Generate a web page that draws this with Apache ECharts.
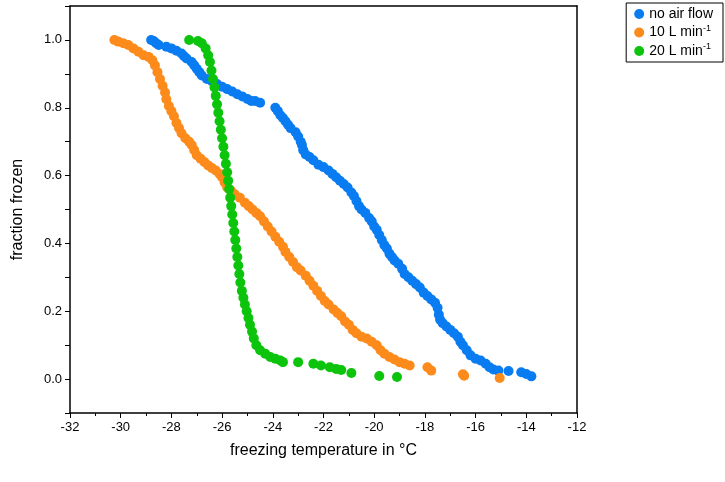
<!DOCTYPE html>
<html>
<head>
<meta charset="utf-8">
<script src="https://cdn.jsdelivr.net/npm/echarts@6/dist/echarts.min.js"></script>
<style>html,body{margin:0;padding:0;background:#fff}#chart{width:725px;height:482px}</style>
</head>
<body>
<div id="chart"></div>
<script>
// data
const noAirX = [-28.8, -28.7, -28.6, -28.5, -28.2, -28.0, -27.8, -27.6, -27.5, -27.4, -27.2, -27.1, -27.0, -26.9, -26.8, -26.6, -26.4, -26.2, -26.0, -25.8, -25.6, -25.4, -25.2, -25.0, -24.85, -24.7, -24.5, -23.9, -23.8, -23.7, -23.6, -23.5, -23.4, -23.3, -23.1, -23.0, -22.9, -22.85, -22.8, -22.7, -22.55, -22.4, -22.2, -22.0, -21.8, -21.65, -21.5, -21.35, -21.2, -21.05, -20.9, -20.8, -20.7, -20.6, -20.5, -20.35, -20.2, -20.1, -20.0, -19.9, -19.8, -19.7, -19.6, -19.5, -19.4, -19.3, -19.2, -19.05, -18.9, -18.8, -18.65, -18.5, -18.35, -18.2, -18.05, -17.9, -17.75, -17.6, -17.5, -17.45, -17.4, -17.3, -17.15, -17.0, -16.85, -16.7, -16.6, -16.5, -16.35, -16.2, -16.0, -15.8, -15.6, -15.45, -15.3, -15.1, -14.7, -14.2, -14.0, -13.8]
const noAirY = [1.0, .997, .99, .985, .98, .975, .968, .96, .952, .945, .935, .925, .915, .905, .895, .885, .878, .87, .862, .855, .848, .84, .833, .826, .82, .82, .815, .80, .79, .778, .77, .76, .75, .74, .728, .715, .70, .69, .675, .662, .655, .645, .632, .625, .615, .605, .595, .585, .575, .565, .55, .54, .525, .51, .50, .49, .475, .465, .45, .44, .425, .41, .395, .385, .37, .36, .35, .34, .325, .31, .30, .29, .28, .27, .255, .245, .235, .225, .21, .19, .175, .165, .155, .145, .135, .125, .11, .10, .085, .07, .06, .055, .045, .035, .028, .025, .024, .02, .015, .008]
const tenX = [-30.25, -30.1, -29.9, -29.7, -29.5, -29.3, -29.1, -28.9, -28.75, -28.65, -28.55, -28.45, -28.35, -28.25, -28.2, -28.1, -28.0, -27.9, -27.8, -27.7, -27.6, -27.45, -27.3, -27.2, -27.1, -27.0, -26.85, -26.7, -26.55, -26.4, -26.25, -26.1, -26.0, -25.9, -25.8, -25.65, -25.5, -25.3, -25.1, -24.95, -24.8, -24.65, -24.5, -24.35, -24.2, -24.05, -23.9, -23.75, -23.6, -23.5, -23.35, -23.2, -23.05, -22.9, -22.7, -22.55, -22.4, -22.25, -22.1, -21.95, -21.8, -21.6, -21.45, -21.3, -21.15, -21.0, -20.85, -20.7, -20.5, -20.3, -20.1, -19.9, -19.75, -19.6, -19.4, -19.2, -19.0, -18.8, -18.6, -17.9, -17.75, -16.5, -16.45, -15.05]
const tenY = [1.0, .995, .99, .985, .975, .965, .955, .95, .94, .925, .905, .885, .865, .845, .825, .805, .79, .775, .755, .74, .725, .71, .70, .69, .675, .66, .65, .64, .63, .622, .615, .605, .595, .58, .565, .555, .545, .535, .52, .51, .50, .49, .48, .465, .45, .435, .42, .405, .39, .375, .36, .345, .33, .32, .305, .29, .275, .26, .245, .23, .22, .205, .195, .185, .17, .16, .145, .135, .125, .12, .11, .10, .085, .075, .065, .058, .05, .045, .04, .035, .025, .014, .01, .003]
const twentyX = [-27.3, -26.95, -26.8, -26.65, -26.55, -26.48, -26.42, -26.36, -26.3, -26.25, -26.2, -26.15, -26.1, -26.05, -26.0, -25.95, -25.9, -25.85, -25.8, -25.76, -25.72, -25.68, -25.64, -25.6, -25.56, -25.52, -25.48, -25.44, -25.4, -25.36, -25.32, -25.28, -25.22, -25.16, -25.1, -25.03, -24.96, -24.9, -24.82, -24.75, -24.65, -24.5, -24.3, -24.1, -23.9, -23.7, -23.6, -23.0, -22.4, -22.1, -21.75, -21.5, -21.3, -20.9, -19.8, -19.1]
const twentyY = [1.0, .997, .99, .975, .955, .935, .91, .885, .86, .835, .81, .785, .76, .735, .71, .685, .66, .635, .61, .585, .56, .535, .51, .485, .46, .435, .41, .385, .36, .335, .31, .285, .26, .24, .22, .20, .18, .16, .14, .12, .10, .085, .075, .065, .06, .055, .05, .05, .045, .04, .035, .03, .027, .018, .009, .006]

function pairs(xs, ys) {
    return xs.map((x, i) => [x, ys[i]])
}

const chart = echarts.init(document.getElementById('chart'))
const axisLine = { show: true, onZero: false, lineStyle: { color: '#000', width: 1.5 } }
const font = 'Arial, "Liberation Sans", sans-serif'

chart.setOption({
    animation: false,
    textStyle: { fontFamily: font },
    grid: { left: 70, right: 148, top: 6, bottom: 69 },
    legend: {
        right: 2, top: 3, orient: 'vertical', itemGap: 3,
        icon: 'circle', itemWidth: 10, itemHeight: 10,
        borderColor: '#000', borderWidth: 1, padding: [4, 10, 4, 8],
        textStyle: { fontSize: 14, color: '#000', fontFamily: font, rich: { sup: { fontSize: 9, verticalAlign: 'top', padding: [0, 0, 8, 0] } } },
        formatter: n => n === 'no air flow' ? n : n.replace('min-1', 'min{sup|-1}'),
        data: ['no air flow', '10 L min-1', '20 L min-1']
    },
    xAxis: [{
        type: 'value', min: -32, max: -12, interval: 2,
        name: 'freezing temperature in °C', nameLocation: 'middle', nameGap: 30,
        nameTextStyle: { fontSize: 16, color: '#000' },
        axisLine, axisTick: { show: true, length: 5, lineStyle: { color: '#000' } },
        minorTick: { show: true, splitNumber: 2, length: 3, lineStyle: { color: '#000' } },
        axisLabel: { color: '#000', fontSize: 13 },
        splitLine: { show: false }
    }, {
        type: 'value', min: -32, max: -12, position: 'top',
        axisLine, axisTick: { show: false }, axisLabel: { show: false }, splitLine: { show: false }
    }],
    yAxis: [{
        type: 'value', min: -0.1, max: 1.1, interval: 0.1,
        name: 'fraction frozen', nameLocation: 'middle', nameGap: 44,
        nameTextStyle: { fontSize: 16, color: '#000' },
        axisLine,
        axisTick: { show: true, length: 5, lineStyle: { color: '#000' } },
        axisLabel: {
            color: '#000', fontSize: 13,
            formatter: v => {
                const k = Math.round(v * 10)
                return (k >= 0 && k % 2 === 0 && k <= 10) ? (k / 10).toFixed(1) : ''
            }
        },
        splitLine: { show: false }
    }, {
        type: 'value', min: -0.1, max: 1.1, position: 'right',
        axisLine, axisTick: { show: false }, axisLabel: { show: false }, splitLine: { show: false }
    }],
    series: [
        { name: 'no air flow', type: 'scatter', symbolSize: 10, itemStyle: { color: '#0a7cf2', opacity: 1 }, data: pairs(noAirX, noAirY) },
        { name: '10 L min-1', type: 'scatter', symbolSize: 10, itemStyle: { color: '#fd8b1b', opacity: 1 }, data: pairs(tenX, tenY) },
        { name: '20 L min-1', type: 'scatter', symbolSize: 10, itemStyle: { color: '#0cc40c', opacity: 1 }, data: pairs(twentyX, twentyY) }
    ]
})
</script>
</body>
</html>
